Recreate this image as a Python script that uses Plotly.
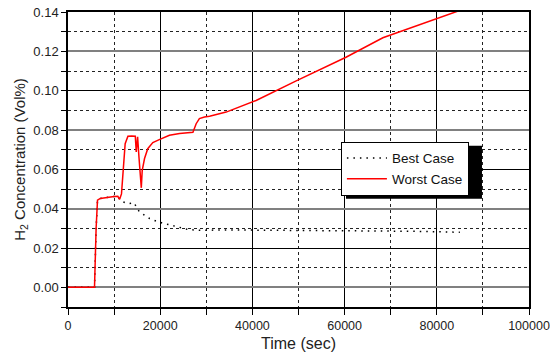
import plotly.graph_objects as go

# Worst case (red solid)
worst_t = [0, 3000, 5750, 6100, 6400, 7000, 8500, 10000, 10800, 11200, 11600, 11900, 12400, 13000,
           13800, 14600, 14800, 15000, 15100, 15400, 15700, 15900, 16100, 16600, 17300, 18400,
           19800, 22000, 24200, 27100, 27800, 28500, 29600, 30700, 34300, 40800, 49500, 60300,
           68300, 74800, 83800, 85000]
worst_c = [0.0, 0.0, 0.0, 0.030, 0.0443, 0.0452, 0.0458, 0.0462, 0.0463, 0.0448, 0.0475, 0.0561,
           0.073, 0.0768, 0.0770, 0.0768, 0.0688, 0.074, 0.0765, 0.066, 0.055, 0.0506, 0.0595,
           0.0655, 0.0705, 0.0736, 0.0751, 0.0773, 0.0782, 0.0788, 0.0832, 0.0858, 0.0866, 0.0870,
           0.0891, 0.095, 0.105, 0.117, 0.1269, 0.1323, 0.1398, 0.1408]

# Best case (black dotted)
best_t = [0, 3000, 5750, 6100, 6400, 7000, 8500, 10000, 10800, 11500, 13000, 14400, 14900, 15500,
          16600, 17700, 19500, 20900, 23500, 26000, 28500, 35000, 45000, 55000, 65000, 75000, 85000]
best_c = [0.0, 0.0, 0.0, 0.030, 0.0443, 0.0452, 0.0458, 0.0462, 0.0463, 0.0438, 0.0426, 0.0429,
          0.0404, 0.0384, 0.0367, 0.035, 0.0333, 0.0325, 0.0308, 0.0294, 0.0290, 0.0292, 0.0290,
          0.0289, 0.0287, 0.0285, 0.0280]

x_range = [0, 100000]
y_range = [-0.01, 0.14]

font_family = "Liberation Sans, Arial, sans-serif"

fig = go.Figure()
fig.add_trace(go.Scatter(x=best_t, y=best_c, mode="lines", name="Best Case",
                         line=dict(color="black", width=1.5, dash="1.5px,5px")))
fig.add_trace(go.Scatter(x=worst_t, y=worst_c, mode="lines", name="Worst Case",
                         line=dict(color="#ff0000", width=1.5)))
# helper trace for the overlay axis carrying the grey gridlines
fig.add_trace(go.Scatter(x=[0], y=[0], yaxis="y2", mode="markers", marker=dict(opacity=0),
                         showlegend=False, hoverinfo="skip"))

# legend drop shadow (paper coordinates)
fig.add_shape(type="rect", xref="paper", yref="paper", x0=0.603, x1=0.898, y0=0.367, y1=0.547,
              fillcolor="black", line=dict(width=0), layer="above")

fig.update_layout(
    width=550, height=359,
    margin=dict(l=68, r=21, t=12, b=52),
    paper_bgcolor="white", plot_bgcolor="white",
    font=dict(family=font_family, size=12.5, color="#222"),
    showlegend=True,
    legend=dict(x=0.592, y=0.56, xanchor="left", yanchor="top", itemwidth=40, entrywidth=95,
                bgcolor="white", bordercolor="black", borderwidth=1,
                font=dict(size=13.5, color="#111"), tracegroupgap=0),
    xaxis=dict(range=x_range, dtick=20000, tick0=0, tickformat="d", ticks="outside", ticklen=6,
               tickcolor="black", showgrid=True, gridcolor="black", gridwidth=1, automargin=False,
               ticklabeloverflow="allow",
               zeroline=False, showline=True, linecolor="black", linewidth=1.5, mirror=True,
               minor=dict(dtick=10000, ticks="outside", ticklen=6, tickcolor="black",
                          showgrid=True, gridcolor="#222", griddash="dot", gridwidth=1),
               title=dict(text="Time (sec)", font=dict(size=16), standoff=6)),
    yaxis=dict(range=y_range, dtick=0.02, tick0=0, tickformat=".2f", ticks="outside", ticklen=5,
               tickcolor="black", showgrid=True, gridcolor="black", gridwidth=1, automargin=False,
               tickfont=dict(size=13),
               zeroline=False, showline=True, linecolor="black", linewidth=1.5, mirror=True,
               minor=dict(dtick=0.01, ticks="outside", ticklen=5, tickcolor="black",
                          showgrid=True, gridcolor="#222", griddash="dot", gridwidth=1),
               title=dict(text="H<sub>2</sub> Concentration (Vol%)", font=dict(size=15), standoff=4)),
    yaxis2=dict(range=y_range, overlaying="y", tick0=0, dtick=0.04, showticklabels=False,
                ticks="", showgrid=True, gridcolor="#808080", gridwidth=2, zeroline=False,
                automargin=False),
)

fig.write_html("out.html", config={"displayModeBar": False},
               post_script="document.body.style.margin='0';document.body.style.padding='0';")
